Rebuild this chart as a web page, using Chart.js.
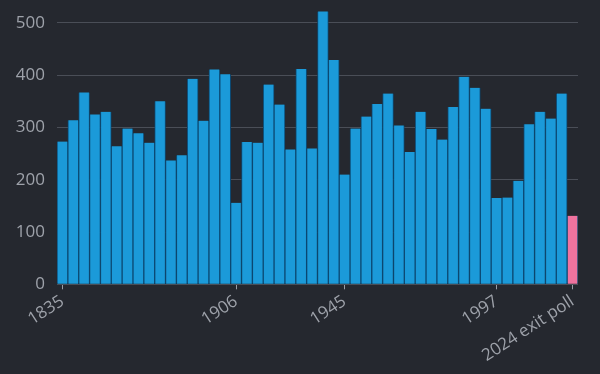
<!DOCTYPE html>
<html lang="en">
<head>
  <meta charset="UTF-8" />
  <title>Conservative seats by election</title>
  <script src="https://cdn.jsdelivr.net/npm/chart.js"></script>
  <style>
    body {
      margin: 0;
      background: #25282f;
    }
    .wrap {
      width: 600px;
      height: 374px;
    }
  </style>
</head>
<body>
  <div class="wrap"><canvas id="seatsChart" width="600" height="374"></canvas></div>

  <script>
    const elections = ['1835', '1837', '1841', '1847', '1852', '1857', '1859', '1865', '1868', '1874',
      '1880', '1885', '1886', '1892', '1895', '1900', '1906', '1910 Jan', '1910 Dec', '1918',
      '1922', '1923', '1924', '1929', '1931', '1935', '1945', '1950', '1951', '1955',
      '1959', '1964', '1966', '1970', '1974 Feb', '1974 Oct', '1979', '1983', '1987', '1992',
      '1997', '2001', '2005', '2010', '2015', '2017', '2019', '2024 exit poll'];
    const seats = [273, 314, 367, 325, 330, 264, 298, 289, 271, 350,
      237, 247, 393, 313, 411, 402, 156, 272, 271, 382,
      344, 258, 412, 260, 522, 429, 210, 298, 321, 345,
      365, 304, 253, 330, 297, 277, 339, 397, 376, 336,
      165, 166, 198, 306, 330, 317, 365, 131];
    const shownLabels = ['1835', '1906', '1945', '1997', '2024 exit poll'];
    const yTicks = [0, 100, 200, 300, 400, 500];

    const barColors = elections.map(e => e === '2024 exit poll' ? '#f0739f' : '#1b9ad9');

    const ctx = document.getElementById('seatsChart').getContext('2d');
    new Chart(ctx, {
      type: 'bar',
      data: {
        labels: elections,
        datasets: [{
          data: seats,
          backgroundColor: barColors,
          borderColor: '#0c4a74',
          borderWidth: { left: 1, right: 1, top: 0, bottom: 0 },
          borderSkipped: false,
          barPercentage: 1,
          categoryPercentage: 1
        }]
      },
      options: {
        responsive: false,
        animation: false,
        layout: { padding: { top: 2, right: 22, bottom: 6, left: 14 } },
        plugins: {
          legend: { display: false },
          tooltip: { enabled: false }
        },
        scales: {
          x: {
            border: { display: false },
            grid: {
              offset: false,
              drawOnChartArea: false,
              tickLength: 5,
              color: c => shownLabels.includes(elections[c.index]) ? '#9a9ea6' : 'rgba(0,0,0,0)'
            },
            afterFit: axis => {
              // let the first rotated label hang under the y labels
              axis.paddingLeft = 0;
            },
            ticks: {
              autoSkip: false,
              minRotation: 33,
              maxRotation: 33,
              padding: 2,
              color: '#9ea2aa',
              font: { family: 'Open Sans', size: 17 },
              callback: function (v, i) {
                const lab = elections[i];
                return shownLabels.includes(lab) ? lab : '';
              }
            }
          },
          y: {
            min: 0,
            max: 540,
            border: { display: false },
            grid: { color: '#4a4e57', drawTicks: false },
            afterBuildTicks: axis => {
              axis.ticks = yTicks.map(v => ({ value: v }));
            },
            afterFit: axis => {
              axis.paddingTop = 0;
              axis.paddingBottom = 0;
              axis.width = 43;
            },
            ticks: {
              padding: 12,
              color: '#9ea2aa',
              font: { family: 'Open Sans', size: 17 }
            }
          }
        }
      }
    });
  </script>
</body>
</html>
